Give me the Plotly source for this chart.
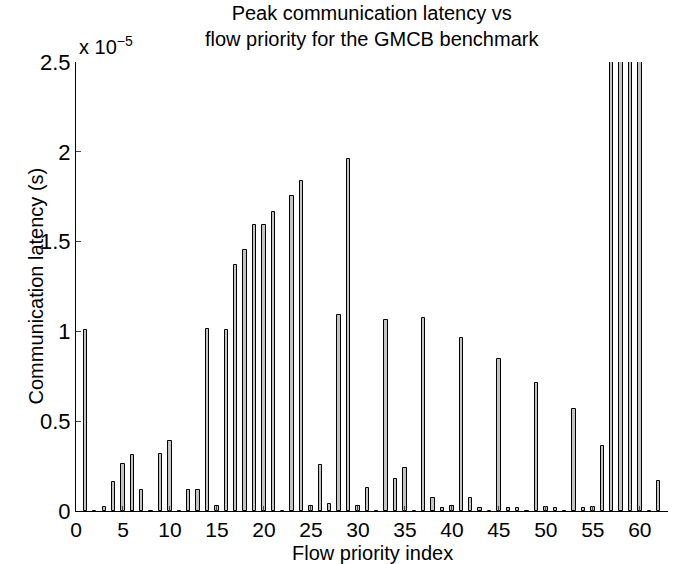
import plotly.graph_objects as go

priority = list(range(1, 63))
# latency in units of 1e-5 s; bars 57-60 exceed the axis limit
latency_e5 = [1.01, 0, 0.02, 0.16, 0.26, 0.31, 0.117, 0, 0.32, 0.39,
              0, 0.117, 0.117, 1.013, 0.03, 1.008, 1.37, 1.453, 1.592, 1.592,
              1.667, 0, 1.756, 1.836, 0.03, 0.255, 0.04, 1.09, 1.96, 0.03,
              0.13, 0, 1.063, 0.18, 0.24, 0, 1.075, 0.075, 0.015, 0.03,
              0.965, 0.07, 0.015, 0, 0.846, 0.015, 0.015, 0, 0.71, 0.025,
              0.015, 0, 0.57, 0.015, 0.025, 0.36, 3.2, 3.2, 3.2, 3.2,
              0, 0.167]
latency = [v * 1e-5 for v in latency_e5]

y_ticks = [0, 0.5e-5, 1e-5, 1.5e-5, 2e-5, 2.5e-5]
y_ticktext = ["0", "0.5", "1", "1.5", "2", "2.5"]
x_ticks = list(range(0, 61, 5))

FONT = "Liberation Sans, Arial, Helvetica, sans-serif"

fig = go.Figure()
fig.add_trace(go.Bar(
    x=priority, y=latency, width=0.36,
    marker=dict(color="#c4c4c4", line=dict(color="black", width=1)),
    cliponaxis=True,
))

fig.update_layout(
    width=689, height=564,
    margin=dict(l=76, r=21, t=62, b=53),
    paper_bgcolor="white", plot_bgcolor="white",
    showlegend=False,
    font=dict(family=FONT, color="black"),
    bargap=0,
)
fig.update_xaxes(
    range=[0, 63], tickvals=x_ticks, ticks="inside", ticklen=5,
    showline=True, linecolor="black", linewidth=1, showgrid=False, zeroline=False,
    tickfont=dict(size=21, family=FONT), mirror=False,
)
fig.update_yaxes(
    range=[0, 2.5e-5], tickvals=y_ticks, ticktext=y_ticktext, ticks="inside", ticklen=5,
    showline=True, linecolor="black", linewidth=1, showgrid=False, zeroline=False,
    tickfont=dict(size=22, family=FONT), mirror=False,
)

fig.add_annotation(text="Peak communication latency vs<br>flow priority for the GMCB benchmark",
                   xref="paper", yref="paper", x=0.5, y=1, yshift=36, yanchor="middle",
                   showarrow=False, font=dict(size=20, family=FONT))
fig.add_annotation(text="x 10<sup>\u22125</sup>", xref="paper", yref="paper",
                   x=0, y=1, xanchor="left", yanchor="bottom", xshift=1, yshift=2,
                   showarrow=False, font=dict(size=20, family=FONT))
fig.add_annotation(text="Flow priority index", xref="paper", yref="paper",
                   x=0.5, y=0, yshift=-42, yanchor="middle", showarrow=False,
                   font=dict(size=20, family=FONT))
fig.add_annotation(text="Communication latency (s)", xref="paper", yref="paper",
                   x=0, y=0.5, xshift=-54, textangle=-90, showarrow=False,
                   font=dict(size=20, family=FONT))

fig.write_html("out.html",
               config={"displayModeBar": False},
               post_script="document.body.style.margin='0';document.body.style.padding='0';")
